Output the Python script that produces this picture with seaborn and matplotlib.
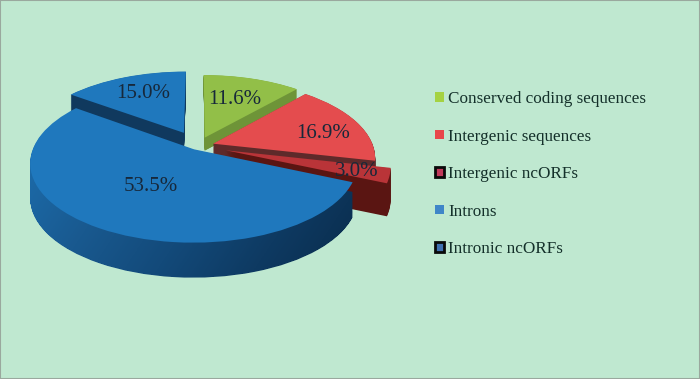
import numpy as np
import seaborn as sns
import matplotlib
matplotlib.use('Agg')
import matplotlib.pyplot as plt
from matplotlib.colors import LinearSegmentedColormap
from matplotlib.patches import Patch, PathPatch
from matplotlib.path import Path
from matplotlib.transforms import Affine2D, Transform

categories = ['Conserved coding sequences', 'Intergenic sequences', 'Intergenic ncORFs', 'Introns', 'Intronic ncORFs']
shares = [11.6, 16.9, 3.0, 53.5, 15.0]
explode = [0.12, 0.1, 0.18, 0.05, 0.2]
depths = [13, 14, 33, 35, 18]  # side height per slice, px
top_colors = ['#92bf48', '#e44c4e', '#b93438', '#1f78bd', '#1f78bd']
side_colors = ['#6e9438', '#5e2a2a', '#5a1512', '#134a78', '#10395e']
legend_colors = ['#a5d242', '#e8474a', '#c0395a', '#3f86c8', '#3f70b0']
legend_edges = ['none', 'none', '#0a0a0a', 'none', '#0a0a0a']
draw_order = [4, 0, 1, 2, 3]  # back to front
label_pos = [(235, 99.5), (323, 133.5), (357, 171), (151, 186.5), (143, 93)]

sns.set_theme(style='white')
plt.rcParams['font.family'] = ['Liberation Serif', 'DejaVu Serif']

W, H = 700, 379
cx, cy = 198, 146


# tilted pie: the far side of the unit circle gets smaller than the near side
class Tilt(Transform):
    input_dims = output_dims = 2

    def transform_non_affine(self, values):
        x, y = values[:, 0], values[:, 1]
        d = 1 + 0.172 * y
        return np.column_stack([160 * x / d, 76 * y / d])


tilt = Tilt()

fig = plt.figure(figsize=(W / 100, H / 100), dpi=100, facecolor='#bfe8d0')
ax = fig.add_axes([0, 0, 1, 1])
ax.set_facecolor('#bfe8d0')


def draw_pie(offset_by_slice, colors, z_extra):
    wedges, _ = ax.pie(shares, explode=explode, colors=colors, startangle=90,
                       counterclock=False, frame=True,
                       wedgeprops={'linewidth': 0})
    for i, w in enumerate(wedges):
        w.set_transform(tilt + Affine2D().translate(0, -offset_by_slice[i]) + ax.transData)
        w.set_zorder(2 + draw_order.index(i) + z_extra)
    return wedges


# side walls, stacked from the bottom up
steps = np.linspace(1, 0.02, 40)
big_paths = []
for n, t in enumerate(steps):
    ws = draw_pie([d * t for d in depths], side_colors, n / 100)
    w = ws[3]
    p = w.get_path().transformed(w.get_patch_transform())
    p = Path(tilt.transform(p.vertices) - [0, depths[3] * t], p.codes)
    big_paths.append(p)
    w.set_visible(False)

# shaded wall of the big slice
wall = Path.make_compound_path(*big_paths)
shade = LinearSegmentedColormap.from_list('wall', ['#1c6aa8', '#19598f', '#134a7a', '#0e3a62', '#0a2c4c'])
xx, yy = np.meshgrid(np.linspace(0, 1, 200), np.linspace(0, 1, 60))
grad = shade(np.clip(xx * 0.85 + yy * 0.25 - 0.05, 0, 1))
im = ax.imshow(grad, extent=[-170, 165, -140, 10], origin='upper', aspect='auto', zorder=5.2)
im.set_clip_path(PathPatch(wall, transform=ax.transData))

# top faces
draw_pie([0] * 5, top_colors, 0.9)

ax.set_aspect('auto')
ax.set_xlim(-cx, W - cx)
ax.set_ylim(cy - H, cy)
ax.set_xticks([])
ax.set_yticks([])
for s in ax.spines.values():
    s.set_visible(True)
    s.set_color('#9aa89e')
    s.set_linewidth(1.5)

for v, (px, py) in zip(shares, label_pos):
    ax.text(px - cx, cy - py, f'{v:.1f}%', ha='center', va='center',
            fontsize=15, color='#17283a', zorder=20)

handles = [Patch(facecolor=c, edgecolor=e, linewidth=2.0 if e != 'none' else 0)
           for c, e in zip(legend_colors, legend_edges)]
leg = ax.legend(handles, categories, loc='upper left', bbox_to_anchor=(435 / W, 1 - 91 / H),
                bbox_transform=fig.transFigure, frameon=False, fontsize=12.3, labelspacing=1.26,
                handlelength=0.5, handleheight=0.5, handletextpad=0.27, borderpad=0, borderaxespad=0)
for t in leg.get_texts():
    t.set_color('#14302a')
leg.set_zorder(30)

fig.savefig('out.png', dpi=100)
